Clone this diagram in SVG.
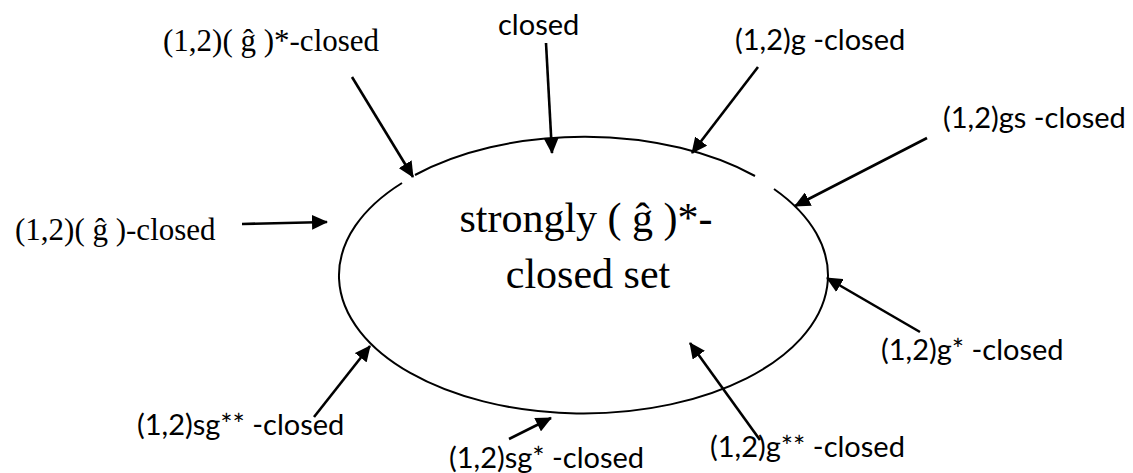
<svg xmlns="http://www.w3.org/2000/svg" width="1133" height="473" viewBox="0 0 1133 473">
<style>
.tm{font-family:"Liberation Serif","DejaVu Serif",serif;fill:#000}
.cb{font-family:Lato,"Open Sans",sans-serif;font-size:29px;fill:#000}
.conn line{stroke:#000;stroke-width:2.6;fill:none}
</style>
<defs>
<marker id="ah" viewBox="0 0 16 15" refX="15" refY="7.5" markerWidth="16" markerHeight="15" markerUnits="userSpaceOnUse" orient="auto">
<path d="M0,0 L16,7.5 L0,15 z" fill="#000"/>
</marker>
</defs>
<rect width="1133" height="473" fill="#fff"/>
<g id="center">
<path d="M774,189 A244.5,138 0 1 1 402,183 M415,175 A244.5,138 0 0 1 755,176" fill="none" stroke="#000" stroke-width="2"/>
<text class="tm" font-family="Liberation Serif, serif" x="586" y="232" font-size="42" text-anchor="middle">strongly ( ĝ )*-</text>
<text class="tm" font-family="Liberation Serif, serif" x="588" y="288" font-size="42" text-anchor="middle">closed set</text>
</g>
<g id="n1"><text class="tm" font-family="Liberation Serif, serif" x="163" y="51" font-size="31">(1,2)( ĝ )*-closed</text></g>
<g id="n2"><text class="tm" font-family="Liberation Serif, serif" x="15" y="240" font-size="31">(1,2)( ĝ )-closed</text></g>
<g id="n3"><text class="cb" x="498" y="35">closed</text></g>
<g id="n4"><text class="cb" x="735" y="50">(1,2)g -closed</text></g>
<g id="n5"><text class="cb" x="943" y="128">(1,2)gs -closed</text></g>
<g id="n6"><text class="cb" x="881" y="360">(1,2)g* -closed</text></g>
<g id="n7"><text class="cb" x="710" y="457">(1,2)g** -closed</text></g>
<g id="n8"><text class="cb" x="449" y="468">(1,2)sg* -closed</text></g>
<g id="n9"><text class="cb" x="137" y="435">(1,2)sg** -closed</text></g>
<g class="conn" id="connectors">
<line x1="352" y1="77" x2="413" y2="177" marker-end="url(#ah)"/>
<line x1="242" y1="224" x2="327" y2="222" marker-end="url(#ah)"/>
<line x1="546" y1="43" x2="552" y2="153" marker-end="url(#ah)"/>
<line x1="758" y1="67" x2="692" y2="153" marker-end="url(#ah)"/>
<line x1="927" y1="138" x2="795" y2="206" marker-end="url(#ah)"/>
<line x1="920" y1="332" x2="827" y2="278" marker-end="url(#ah)"/>
<line x1="760" y1="440" x2="690" y2="343" marker-end="url(#ah)"/>
<line x1="509" y1="439" x2="551" y2="418" marker-end="url(#ah)"/>
<line x1="314" y1="417" x2="370" y2="346" marker-end="url(#ah)"/>
</g>
</svg>
